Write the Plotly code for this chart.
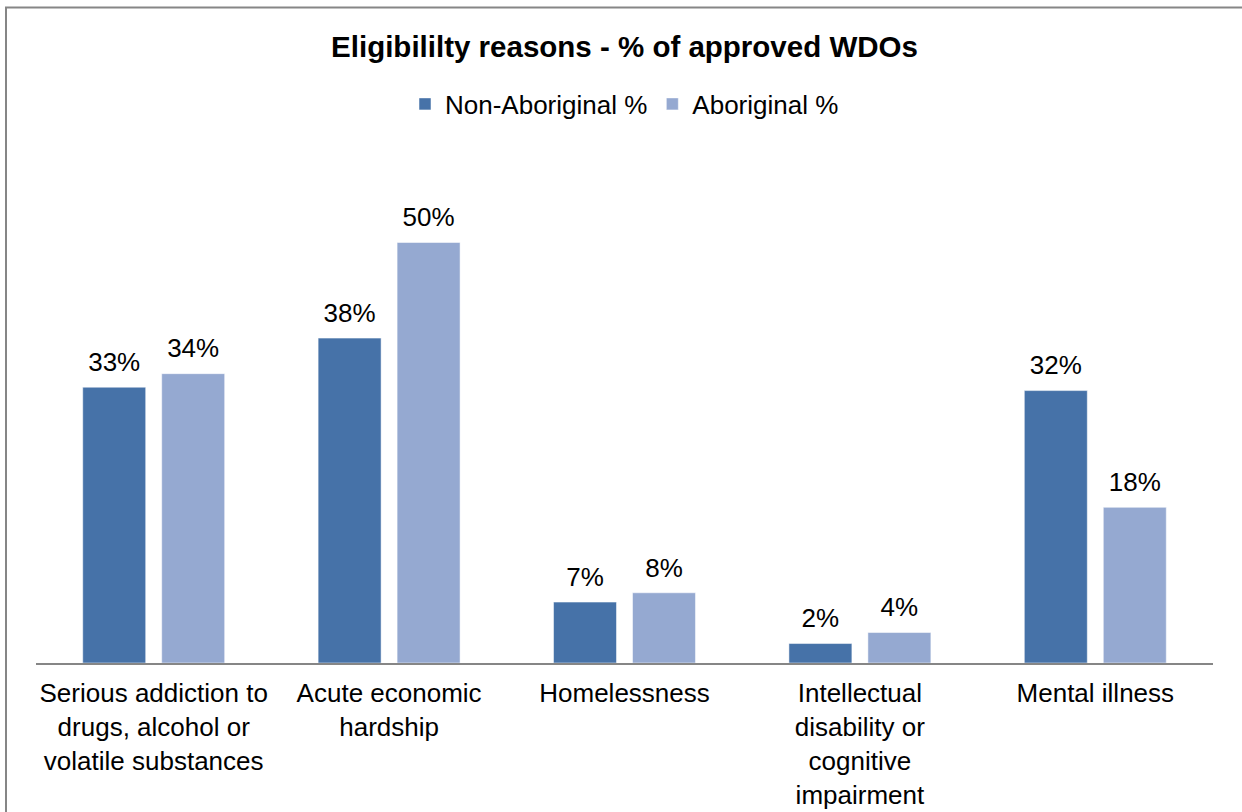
import plotly.graph_objects as go

categories = [
    "Serious addiction to<br>drugs, alcohol or<br>volatile substances",
    "Acute economic<br>hardship",
    "Homelessness",
    "Intellectual<br>disability or<br>cognitive<br>impairment",
    "Mental illness",
]
series_names = ["Non-Aboriginal %", "Aboriginal %"]
non_aboriginal = [32.6, 38.4, 7.2, 2.3, 32.2]
aboriginal = [34.2, 49.7, 8.3, 3.6, 18.4]
colors = ["#4672A8", "#95A9D1"]

W, H = 1242, 812
ML, MR, MT, MB = 36, 29, 130, 149
YMAX = 63

FONT = "Liberation Sans, Arial, sans-serif"

fig = go.Figure()
for name, vals, col in zip(series_names, [non_aboriginal, aboriginal], colors):
    fig.add_trace(go.Bar(
        x=categories, y=vals, name=name,
        marker=dict(color=col, line=dict(color="rgba(255,255,255,0.5)", width=1)),
        hoverinfo="skip",
    ))
for name, vals in zip(series_names, [non_aboriginal, aboriginal]):
    fig.add_trace(go.Scatter(
        x=categories, y=vals, mode="markers+text",
        text=[f"{v:.0f}%" for v in vals],
        textposition="top center",
        textfont=dict(family=FONT, size=26, color="#000000"),
        marker=dict(size=14, opacity=0),
        showlegend=False, hoverinfo="skip", cliponaxis=False,
    ))

pw = W - ML - MR
ph = H - MT - MB


def px_x(x):
    return (x - ML) / pw


def px_y(y):
    return (H - MB - y) / ph


fig.update_layout(
    width=W, height=H,
    margin=dict(l=ML, r=MR, t=MT, b=MB, autoexpand=False),
    paper_bgcolor="white", plot_bgcolor="white",
    font=dict(family=FONT, size=26, color="#000000"),
    barmode="group", bargap=0.329, bargroupgap=0.2025,
    scattermode="group", scattergap=0.329,
    title=dict(
        text="<b>Eligibililty reasons - % of approved WDOs</b>",
        x=0.5, xref="paper", xanchor="center",
        y=1 - 47 / H, yref="container", yanchor="middle",
        font=dict(family=FONT, size=29.5, color="#000000"),
    ),
    legend=dict(
        orientation="h", x=0.5, xanchor="center",
        y=px_y(104), yanchor="middle",
        font=dict(family=FONT, size=26, color="#000000"),
        bgcolor="rgba(0,0,0,0)", itemwidth=30,
    ),
    xaxis=dict(
        showline=True, linecolor="#868686", linewidth=2,
        ticks="", showgrid=False, zeroline=False,
        tickfont=dict(family=FONT, size=26, color="#000000"),
        ticklabelstandoff=6,
        automargin=False,
    ),
    yaxis=dict(
        range=[0, YMAX], visible=False, showgrid=False, zeroline=False,
    ),
    shapes=[dict(
        type="rect", xref="paper", yref="paper",
        x0=px_x(6), x1=px_x(W + 20), y0=px_y(H + 20), y1=px_y(7.5),
        line=dict(color="#868686", width=2), fillcolor="rgba(0,0,0,0)",
        layer="below",
    )],
)

fig.write_html("out.html")
